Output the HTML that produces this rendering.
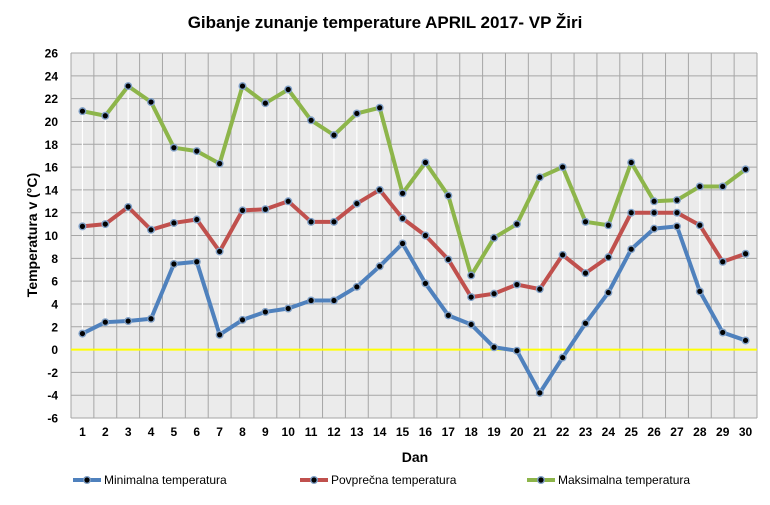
<!DOCTYPE html><html><head><meta charset="utf-8"><style>body{margin:0;background:#fff}svg{display:block;font-family:"Liberation Sans",sans-serif}</style></head><body>
<svg id="s" width="770" height="505" xmlns="http://www.w3.org/2000/svg"></svg>
<script>
var mn=[1.4,2.4,2.5,2.7,7.5,7.7,1.3,2.6,3.3,3.6,4.3,4.3,5.5,7.3,9.3,5.8,3.0,2.2,0.2,-0.1,-3.8,-0.7,2.3,5.0,8.8,10.6,10.8,5.1,1.5,0.8];
var av=[10.8,11.0,12.5,10.5,11.1,11.4,8.6,12.2,12.3,13.0,11.2,11.2,12.8,14.0,11.5,10.0,7.9,4.6,4.9,5.7,5.3,8.3,6.7,8.1,12.0,12.0,12.0,10.9,7.7,8.4];
var mx=[20.9,20.5,23.1,21.7,17.7,17.4,16.3,23.1,21.6,22.8,20.1,18.8,20.7,21.2,13.7,16.4,13.5,6.5,9.8,11.0,15.1,16.0,11.2,10.9,16.4,13.0,13.1,14.3,14.3,15.8];
var x0=71,w=686,y0=53,h=365,dx=w/30;
function X(i){return x0+(i+0.5)*dx}function Y(v){return y0+(26-v)/32*h}
var o='<text x="385" y="28" text-anchor="middle" font-size="17" font-weight="bold">Gibanje zunanje temperature APRIL 2017- VP Žiri</text>';
o+='<rect x="'+x0+'" y="'+y0+'" width="'+w+'" height="'+h+'" fill="#ebebeb"/>';
for(var k=0;k<=30;k++){var x=x0+k*dx;o+='<line x1="'+x+'" y1="'+y0+'" x2="'+x+'" y2="'+(y0+h)+'" stroke="#a6a6a6"/>';}
for(var v=-6;v<=26;v+=2){var y=Y(v);o+='<line x1="'+x0+'" y1="'+y+'" x2="'+(x0+w)+'" y2="'+y+'" stroke="#a6a6a6"/>';o+='<text x="58" y="'+(y+4.5)+'" text-anchor="end" font-size="12" font-weight="bold">'+v+'</text>';}
for(var i=0;i<30;i++){o+='<line x1="'+X(i)+'" y1="'+Y(mx[i])+'" x2="'+X(i)+'" y2="'+Y(mn[i])+'" stroke="#fff" stroke-width="1.2"/>';o+='<text x="'+X(i)+'" y="436" text-anchor="middle" font-size="12" font-weight="bold">'+(i+1)+'</text>';}
o+='<line x1="'+x0+'" y1="'+Y(0)+'" x2="'+(x0+w)+'" y2="'+Y(0)+'" stroke="#ffff00" stroke-width="2"/>';
function ser(d,c){var p=d.map(function(v,i){return X(i)+','+Y(v)}).join(' ');var s='<polyline points="'+p+'" fill="none" stroke="'+c+'" stroke-width="4" stroke-linejoin="round"/>';d.forEach(function(v,i){s+='<circle cx="'+X(i)+'" cy="'+Y(v)+'" r="4" fill="#7f9fc6"/><circle cx="'+X(i)+'" cy="'+Y(v)+'" r="2.6" fill="#000"/>';});return s;}
o+=ser(mx,'#8db54a')+ser(av,'#c0504d')+ser(mn,'#4f81bd');
o+='<text x="415" y="462" text-anchor="middle" font-size="14" font-weight="bold">Dan</text>';
o+='<text transform="translate(37,235) rotate(-90)" text-anchor="middle" font-size="14" font-weight="bold">Temperatura v (°C)</text>';
function leg(x,c,t){return '<line x1="'+x+'" y1="480" x2="'+(x+28)+'" y2="480" stroke="'+c+'" stroke-width="4"/><circle cx="'+(x+14)+'" cy="480" r="4" fill="#7f9fc6"/><circle cx="'+(x+14)+'" cy="480" r="2.6" fill="#000"/><text x="'+(x+31)+'" y="484" font-size="12">'+t+'</text>';}
o+=leg(73,'#4f81bd','Minimalna temperatura')+leg(300,'#c0504d','Povprečna temperatura')+leg(527,'#8db54a','Maksimalna temperatura');
document.getElementById('s').innerHTML=o;
</script></body></html>
